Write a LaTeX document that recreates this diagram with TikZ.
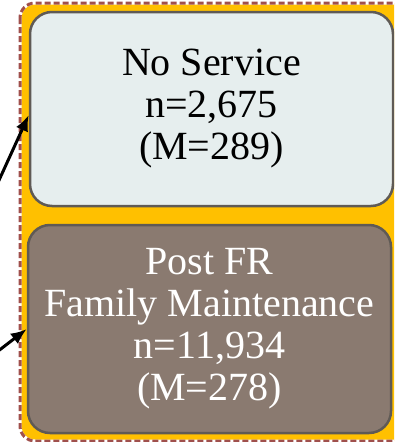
\documentclass[tikz,border=0pt]{standalone}
\usepackage{fontspec}
\setmainfont{Liberation Serif}
\usepackage{tikz}
\usetikzlibrary{arrows.meta}

\definecolor{groupfill}{HTML}{FFC000}
\definecolor{groupline}{HTML}{A0504C}
\definecolor{lightfill}{HTML}{E6EEEE}
\definecolor{darkfill}{HTML}{8A7A70}
\definecolor{boxline}{HTML}{5F5A55}

\begin{document}
\begin{tikzpicture}[
    x=1pt, y=-1pt,
    group box/.style={fill=groupfill, rounded corners=15pt},
    group line/.style={draw=groupline, line width=3pt, dash pattern=on 6pt off 3pt},
    state box/.style={draw=boxline, line width=2.5pt, rounded corners=22pt,
        minimum width=363pt, align=center, inner sep=0pt,
        font=\fontsize{40}{42}\selectfont},
    flow/.style={line width=3pt, -{Latex[length=16pt,width=13pt]}}
    ]
    \useasboundingbox (0,0) rectangle (394,442);
    \clip (0,0) rectangle (394,442);
    % group
    \draw[group box, draw=white, line width=3pt] (20,3) rectangle (420,441);
    \draw[group line, rounded corners=15pt] (20,3) rectangle (420,441);
    % states
    \node[state box, fill=lightfill, minimum height=194pt] (noservice)
        at (211.5,109) {No Service\\n=2,675\\(M=289)};
    \node[state box, fill=darkfill, minimum height=208pt, text=white] (postfr)
        at (209.5,329) {Post FR\\Family Maintenance\\n=11,934\\(M=278)};
    % flows
    \coordinate (in1) at (-10,200);
    \coordinate (in2) at (-20,365);
    \draw[flow] (in1) -- ([yshift=-6pt]noservice.west);
    \draw[flow] (in2) -- (postfr.west);
\end{tikzpicture}
\end{document}
